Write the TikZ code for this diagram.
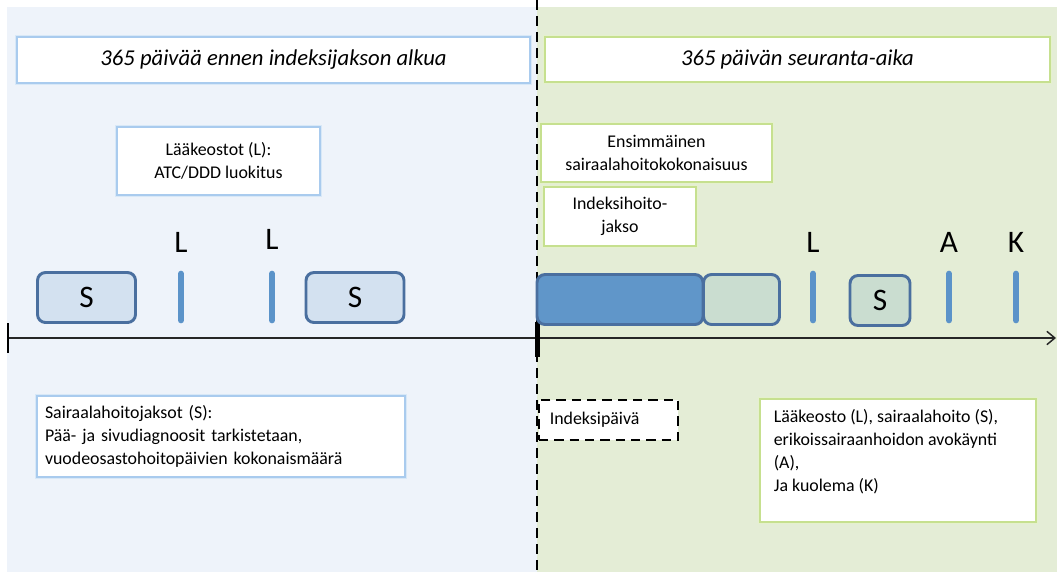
\documentclass[tikz,border=0pt]{standalone}
\usepackage{fontspec}
\setmainfont{Carlito}
\usetikzlibrary{arrows.meta}

\definecolor{bluebg}{HTML}{EEF3FA}
\definecolor{greenbg}{HTML}{E4EDD6}
\definecolor{blueedge}{HTML}{A9CBEE}
\definecolor{greenedge}{HTML}{C6E08F}
\definecolor{tickblue}{HTML}{5B93C9}
\definecolor{sfill}{HTML}{D3E1F0}
\definecolor{sedge}{HTML}{4A6F9F}
\definecolor{darkfill}{HTML}{6096C9}
\definecolor{greyfill}{HTML}{CADDD0}

\newcommand{\bodyfont}{\fontsize{13.4}{17.25}\selectfont}
\newcommand{\markfont}{\fontsize{23.5}{26}\selectfont}

\begin{document}
\begin{tikzpicture}[x=0.75pt,y=-0.75pt,
  bluebox/.style={draw=blueedge, line width=1.2pt, fill=white,
    preaction={draw=blueedge!45, line width=3pt}, font=\bodyfont},
  greenbox/.style={draw=greenedge, line width=1.2pt, fill=white,
    preaction={draw=greenedge!45, line width=3pt}, font=\bodyfont},
  stay/.style={draw=sedge, line width=2.2pt, rounded corners=6pt,
    minimum height=37.5pt, font=\markfont},
  tick/.style={draw=tickblue, line width=4.5pt, line cap=round},
  axis/.style={draw=black!85, line width=1.1pt}]
  \useasboundingbox (0,0) rectangle (1057,572);
  % backgrounds
  \fill[bluebg] (7,7) rectangle (537,572);
  \fill[greenbg] (537,7) rectangle (1057,572);
  \draw[line width=2.2pt, dash pattern=on 7.5pt off 4.5pt] (537,0) -- (537,572);

  % titles
  \node[bluebox, minimum width=384.75pt, minimum height=34.5pt,
        font=\fontsize{17}{20}\selectfont\itshape] (pretitle) at (273.5,60)
        {365 päivää ennen indeksijakson alkua};
  \node[greenbox, minimum width=378.75pt, minimum height=33.75pt,
        font=\fontsize{17}{20}\selectfont\itshape] (posttitle) at (797.5,59.5)
        {365 päivän seuranta-aika};

  % descriptions
  \node[bluebox, minimum width=152.25pt, minimum height=51pt, align=center]
        (drugs) at (218.5,161) {Lääkeostot (L):\\ATC/DDD luokitus};
  \node[greenbox, minimum width=173.25pt, minimum height=43.5pt, align=center]
        (first) at (656.5,153) {Ensimmäinen\\sairaalahoitokokonaisuus};
  \node[greenbox, minimum width=114pt, minimum height=44.25pt, align=center]
        (index) at (620,216.5) {Indeksihoito-\\jakso};
  \node[bluebox, minimum width=276pt, minimum height=60.75pt, text width=264pt,
        align=left] (stays) at (221,436.5)
        {Sairaalahoitojaksot (S):\\Pää- ja sivudiagnoosit tarkistetaan,\\vuodeosastohoitopäivien kokonaismäärä};
  \node[draw=black, line width=1.9pt, dash pattern=on 7pt off 4.5pt, fill=white,
        minimum width=104.25pt, minimum height=30pt, text width=88pt, align=left,
        font=\bodyfont] (indexday) at (608.5,420) {Indeksipäivä};
  \node[greenbox, minimum width=207pt, minimum height=92.25pt,
        anchor=north west, inner xsep=10.5pt, inner ysep=0pt] (followup) at (759,398)
        {\begin{minipage}[t][84pt][t]{186pt}\bodyfont\vspace{4pt}
        Lääkeosto (L), sairaalahoito (S),\\erikoissairaanhoidon avokäynti\\(A),\\Ja kuolema (K)\end{minipage}};

  % timeline
  \coordinate (tstart) at (8,338);
  \coordinate (tzero) at (537,338);
  \coordinate (tend) at (1056,338);
  \draw[axis, -{Straight Barb[length=6pt,width=10pt]}] (tstart) -- (tend);
  \draw[line width=1.6pt] ([yshift=11.25pt]tstart) -- ([yshift=-11.25pt]tstart);
  \draw[line width=3.75pt] ([yshift=12pt]tzero) -- ([yshift=-14pt]tzero);

  % hospital stays
  \node[stay, fill=sfill, minimum width=73.5pt] (s1) at (86.5,297.5) {S};
  \node[stay, fill=sfill, minimum width=73.5pt] (s2) at (355,297.5) {S};
  \node[stay, fill=darkfill, minimum width=124.5pt] (s3) at (620,299.5) {};
  \node[stay, fill=greyfill, minimum width=57pt] (s4) at (741.5,299.5) {};
  \node[stay, fill=greyfill, minimum width=45pt] (s5) at (880,300.5) {S};

  % events
  \foreach \x/\y/\lab [count=\i] in {181/242/L, 272/239/L, 813/242/L, 949/242/A, 1016/242/K}{
    \coordinate (ev\i) at (\x,297);
    \draw[tick] ([yshift=17.5pt]ev\i) -- ([yshift=-17.5pt]ev\i);
    \node[font=\markfont] (lab\i) at (\x,\y) {\lab};
  }
\end{tikzpicture}
\end{document}
